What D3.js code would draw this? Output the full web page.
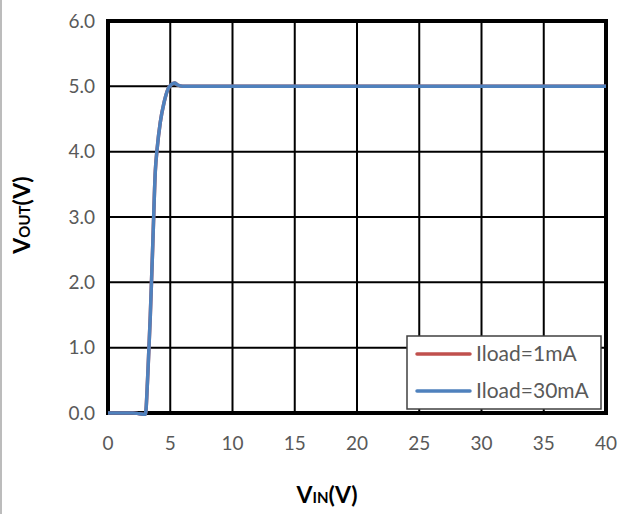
<!DOCTYPE html>
<html>
<head>
<meta charset="utf-8">
<script src="https://cdn.jsdelivr.net/npm/d3@7"></script>
<style>
  body { margin: 0; background: #fff; }
  text { font-family: Lato, "Open Sans", sans-serif; }
</style>
</head>
<body>
<svg id="chart"></svg>
<script>
// Sample data
const vin = [0, 1, 2, 2.5, 3.0, 3.2, 3.4, 3.6, 3.8, 3.95, 4.2, 4.5, 4.8, 5.1, 5.35, 5.6, 6, 10, 15, 20, 25, 30, 35, 40];
const iload1 = [0, 0, 0, -0.01, -0.02, 0.6, 1.5, 2.6, 3.7, 4.05, 4.45, 4.75, 4.95, 5.03, 5.05, 5.02, 5.0, 5.0, 5.0, 5.0, 5.0, 5.0, 5.0, 5.0];
const iload30 = [0, 0, 0, -0.01, -0.02, 0.6, 1.5, 2.6, 3.7, 4.05, 4.45, 4.75, 4.95, 5.03, 5.05, 5.02, 5.0, 5.0, 5.0, 5.0, 5.0, 5.0, 5.0, 5.0];
const seriesNames = ["Iload=1mA", "Iload=30mA"];
const xTicks = [0, 5, 10, 15, 20, 25, 30, 35, 40];
const yTicks = [0, 1, 2, 3, 4, 5, 6];

const width = 629;
const height = 514;
const margin = { left: 108, right: 23, top: 21, bottom: 101 };

const svg = d3.select("#chart")
    .attr("width", width)
    .attr("height", height);

// Outer chart frame (only left edge visible)
svg.append("line")
    .attr("x1", 1).attr("x2", 1)
    .attr("y1", 0).attr("y2", height)
    .attr("stroke", "#a6a6a6")
    .attr("stroke-width", 1.5);

const x = d3.scaleLinear().domain([0, 40]).range([margin.left, width - margin.right]);
const y = d3.scaleLinear().domain([0, 6]).range([height - margin.bottom, margin.top]);

// Gridlines
svg.append("g")
  .selectAll("line")
  .data(xTicks)
  .enter().append("line")
    .attr("x1", d => x(d)).attr("x2", d => x(d))
    .attr("y1", y(0)).attr("y2", y(6))
    .attr("stroke", "#000")
    .attr("stroke-width", 2);

svg.append("g")
  .selectAll("line")
  .data(yTicks)
  .enter().append("line")
    .attr("x1", x(0)).attr("x2", x(40))
    .attr("y1", d => y(d)).attr("y2", d => y(d))
    .attr("stroke", "#000")
    .attr("stroke-width", 2);

// Plot border
svg.append("rect")
    .attr("x", x(0)).attr("y", y(6))
    .attr("width", x(40) - x(0))
    .attr("height", y(0) - y(6))
    .attr("fill", "none")
    .attr("stroke", "#000")
    .attr("stroke-width", 4);

// Tick labels
svg.append("g")
  .selectAll("text")
  .data(yTicks)
  .enter().append("text")
    .attr("x", 95)
    .attr("y", d => y(d))
    .attr("dy", "0.35em")
    .attr("text-anchor", "end")
    .attr("fill", "#595959")
    .style("font-size", "19px")
    .text(d => d.toFixed(1));

svg.append("g")
  .selectAll("text")
  .data(xTicks)
  .enter().append("text")
    .attr("x", d => x(d))
    .attr("y", 450)
    .attr("text-anchor", "middle")
    .attr("fill", "#595959")
    .style("font-size", "19px")
    .text(d => d);

// Lines
const line = d3.line()
    .x((d, i) => x(vin[i]))
    .y(d => y(d))
    .curve(d3.curveMonotoneX);

const colors = ["#C0504D", "#4F81BD"];
[iload1, iload30].forEach((s, i) => {
  svg.append("path")
      .datum(s)
      .attr("d", line)
      .attr("fill", "none")
      .attr("stroke", colors[i])
      .attr("stroke-width", 3.5)
      .attr("stroke-linejoin", "round");
});

// Legend
const legend = svg.append("g").attr("transform", "translate(407,336)");
legend.append("rect")
    .attr("width", 194).attr("height", 73)
    .attr("fill", "#fff")
    .attr("stroke", "#404040")
    .attr("stroke-width", 1.5);

seriesNames.forEach((name, i) => {
  const ly = 18 + i * 37;
  legend.append("line")
      .attr("x1", 10).attr("x2", 63)
      .attr("y1", ly).attr("y2", ly)
      .attr("stroke", colors[i])
      .attr("stroke-width", 3.5)
      .attr("stroke-linecap", "round");
  legend.append("text")
      .attr("x", 69).attr("y", ly)
      .attr("dy", "0.35em")
      .attr("fill", "#595959")
      .style("font-size", "21px")
      .text(name);
});

// Axis titles
const xt = svg.append("text")
    .attr("x", 327).attr("y", 503)
    .attr("text-anchor", "middle")
    .attr("font-weight", "bold")
    .attr("fill", "#000")
    .style("font-size", "23px");
xt.append("tspan").text("V");
xt.append("tspan").style("font-size", "15px").text("IN");
xt.append("tspan").text("(V)");

const yt = svg.append("text")
    .attr("transform", "translate(30,215) rotate(-90)")
    .attr("text-anchor", "middle")
    .attr("font-weight", "bold")
    .attr("fill", "#000")
    .style("font-size", "23px");
yt.append("tspan").text("V");
yt.append("tspan").style("font-size", "15px").text("OUT");
yt.append("tspan").text("(V)");
</script>
</body>
</html>
